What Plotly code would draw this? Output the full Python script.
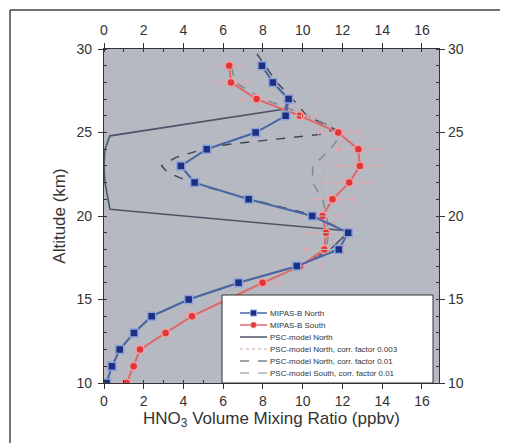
import plotly.graph_objects as go

# ---------------- data ----------------
altitude = [10, 11, 12, 13, 14, 15, 16, 17, 18, 19, 20, 21, 22, 23, 24, 25, 26, 27, 28, 29]
north_vmr = [0.13, 0.40, 0.79, 1.51, 2.40, 4.26, 6.77, 9.70, 11.82, 12.29, 10.48, 7.28, 4.56, 3.87, 5.17, 7.63, 9.14, 9.29, 8.50, 7.95]
north_err = [0.10, 0.15, 0.20, 0.30, 0.40, 0.50, 0.70, 1.00, 1.20, 1.30, 1.00, 0.90, 0.80, 0.70, 0.80, 0.90, 0.80, 0.80, 0.70, 0.80]
south_vmr = [1.14, 1.49, 1.81, 3.10, 4.43, 6.20, 7.98, 9.88, 11.09, 11.17, 11.00, 11.50, 12.34, 12.88, 12.80, 11.79, 9.86, 7.68, 6.39, 6.30]
south_err = [0.10, 0.20, 0.20, 0.30, 0.50, 0.60, 0.80, 1.00, 1.00, 1.00, 1.00, 1.00, 1.10, 1.20, 1.10, 1.00, 0.90, 0.80, 0.80, 0.80]

model_north_alt = [10, 11, 12, 13, 14, 15, 16, 17, 18, 19.1, 20.4, 21, 22, 23, 24, 24.8, 26.4, 27, 28, 29]
model_north_vmr = [0.13, 0.40, 0.79, 1.51, 2.40, 4.26, 6.77, 9.80, 11.40, 12.35, 0.30, 0.20, 0.05, 0.00, 0.05, 0.30, 9.10, 9.29, 8.50, 7.95]

north003_alt = [17, 18, 19, 20, 21, 22, 23, 24, 25, 26, 27, 28, 29.5]
north003_vmr = [9.9, 11.3, 11.6, 11.6, 11.1, 10.9, 11.1, 11.9, 12.1, 10.4, 8.8, 7.9, 7.6]

north01_alt = [17, 18, 19, 20, 21, 22, 22.6, 23, 23.5, 24, 24.3, 24.9, 25.2, 26, 27, 28, 29.7]
north01_vmr = [9.8, 11.7, 12.2, 10.7, 7.4, 4.4, 3.2, 2.9, 3.6, 5.0, 6.3, 11.0, 11.6, 10.2, 9.5, 8.7, 7.7]

south01_alt = [17, 18, 19, 20, 21, 22, 23, 24, 25, 26, 27, 28, 29]
south01_vmr = [9.9, 11.2, 11.3, 11.2, 11.0, 10.5, 10.5, 11.4, 12.0, 10.3, 8.0, 6.6, 6.4]

x_ticks = [0, 2, 4, 6, 8, 10, 12, 14, 16]
y_ticks = [10, 15, 20, 25, 30]

legend_labels = ["MIPAS-B North", "MIPAS-B South", "PSC-model North",
                 "PSC-model North, corr. factor 0.003",
                 "PSC-model North, corr. factor 0.01",
                 "PSC-model South, corr. factor 0.01"]

# ---------------- styles ----------------
BLUE = "#1d2f82"
RED = "#e0383a"
BG = "#b6b9c1"
FONT = "Liberation Sans, Arial, sans-serif"
C_MODEL = "#4d5568"
C_003 = "#c9a3aa"
C_N01 = "#3d4354"
C_S01 = "#7f848f"
C_BLINE = "#4a66a6"
C_RLINE = "#e06868"

# page offset of the figure (default body margin of the page)
OX, OY = 8, 8
FW, FH = 508 - OX, 443 - OY
# plot area in screen pixels
L, R, T, B = 104, 439, 49, 383
W, H = R - L, B - T


def px(X):
    return (X - L) / W


def py(Y):
    return (B - Y) / H


fig = go.Figure()

fig.add_trace(go.Scatter(x=model_north_vmr, y=model_north_alt, mode="lines",
                         line=dict(color=C_MODEL, width=1.6), name=legend_labels[2]))
fig.add_trace(go.Scatter(x=north003_vmr, y=north003_alt, mode="lines",
                         line=dict(color=C_003, width=1.3, dash="dot"), name=legend_labels[3]))
fig.add_trace(go.Scatter(x=north01_vmr, y=north01_alt, mode="lines",
                         line=dict(color=C_N01, width=1.4, dash="dash"), name=legend_labels[4]))
fig.add_trace(go.Scatter(x=south01_vmr, y=south01_alt, mode="lines",
                         line=dict(color=C_S01, width=1.4, dash="dash"), name=legend_labels[5]))
fig.add_trace(go.Scatter(
    x=south_vmr, y=altitude, mode="lines+markers",
    line=dict(color=C_RLINE, width=2),
    marker=dict(symbol="circle", size=8, color=RED, line=dict(color="#f2a0a0", width=1.5)),
    error_x=dict(type="data", array=south_err, color="#e8a9b0", thickness=1, width=3),
    name=legend_labels[1]))
fig.add_trace(go.Scatter(
    x=north_vmr, y=altitude, mode="lines+markers",
    line=dict(color=C_BLINE, width=2),
    marker=dict(symbol="square", size=8, color=BLUE, line=dict(color="#8ea2d8", width=1.5)),
    error_x=dict(type="data", array=north_err, color="#a9c4c8", thickness=1, width=3),
    name=legend_labels[0]))

# invisible trace to activate the mirrored axes
fig.add_trace(go.Scatter(x=[0], y=[10], xaxis="x2", yaxis="y2", mode="markers",
                         marker=dict(opacity=0), hoverinfo="skip"))

axis_common = dict(
    showgrid=False, zeroline=False, showline=True, linecolor="#333", linewidth=1.2,
    ticks="outside", ticklen=5, tickcolor="#333", tickwidth=1.2, automargin=False,
    tickfont=dict(family=FONT, size=14, color="#333"),
)
minor = dict(dtick=1, ticks="inside", ticklen=3, tickcolor="#333")

fig.update_layout(
    width=FW, height=FH,
    margin=dict(l=L - OX, r=FW - (R - OX), t=T - OY, b=FH - (B - OY), autoexpand=False),
    paper_bgcolor="white", plot_bgcolor=BG,
    font=dict(family=FONT, color="#333"),
    showlegend=False,
    xaxis=dict(range=[0, 16.86], tickvals=x_ticks, minor=minor,
               title=dict(text="HNO<sub>3</sub> Volume Mixing Ratio (ppbv)",
                          font=dict(family=FONT, size=17, color="#333"), standoff=2),
               **axis_common),
    yaxis=dict(range=[10, 30], tickvals=y_ticks, minor=minor, ticklabelstandoff=3,
               title=dict(text="Altitude (km)", font=dict(family=FONT, size=17, color="#333"),
                          standoff=6),
               **axis_common),
    xaxis2=dict(overlaying="x", side="top", matches="x", range=[0, 16.86], tickvals=x_ticks,
                minor=minor, anchor="y", ticklabelstandoff=2, **axis_common),
    yaxis2=dict(overlaying="y", side="right", matches="y", range=[10, 30], tickvals=y_ticks,
                minor=minor, anchor="x", **axis_common),
)

# outer frame of the figure (left and top edges only; others run off the page)
fig.add_shape(type="line", xref="paper", yref="paper",
              x0=px(10), x1=px(10), y0=py(470), y1=py(10),
              line=dict(color="#444", width=1.5), layer="below")
fig.add_shape(type="line", xref="paper", yref="paper",
              x0=px(10), x1=px(540), y0=py(10), y1=py(10),
              line=dict(color="#444", width=1.5), layer="below")

# ---------------- hand-drawn legend ----------------
fig.add_shape(type="rect", xref="paper", yref="paper",
              x0=px(222), x1=px(433), y0=py(383), y1=py(295),
              line=dict(color="#333", width=1), fillcolor="white", layer="above")

row_y = [313, 325, 337, 349, 361, 373]
line_styles = [(C_BLINE, "solid", 1.5), (C_RLINE, "solid", 1.5), (C_MODEL, "solid", 1.5),
               (C_003, "dot", 1.2), (C_N01, "dash", 1.2), (C_S01, "dash", 1.2)]
for i, (yy, (col, dash, wd)) in enumerate(zip(row_y, line_styles)):
    fig.add_shape(type="line", xref="paper", yref="paper",
                  x0=px(240), x1=px(267), y0=py(yy), y1=py(yy),
                  line=dict(color=col, width=wd, dash=dash), layer="above")
    fig.add_annotation(xref="paper", yref="paper", x=px(268), y=py(yy),
                       text=legend_labels[i], showarrow=False, xanchor="left", yanchor="middle",
                       font=dict(family=FONT, size=8, color="#333"))
# legend markers
fig.add_shape(type="rect", xref="paper", yref="paper",
              x0=px(250.5), x1=px(256.5), y0=py(316), y1=py(310),
              line=dict(color="#8ea2d8", width=1), fillcolor=BLUE, layer="above")
fig.add_shape(type="circle", xref="paper", yref="paper",
              x0=px(250.5), x1=px(256.5), y0=py(328), y1=py(322),
              line=dict(color="#f2a0a0", width=1), fillcolor=RED, layer="above")

fig.write_html("out.html")
